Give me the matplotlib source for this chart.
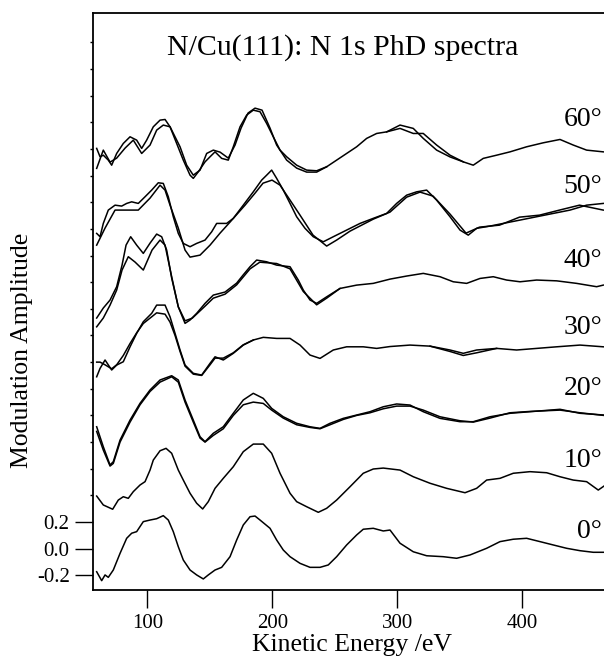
import numpy as np
import matplotlib
matplotlib.use("Agg")
from matplotlib import pyplot as plt

plt.rcParams['font.family'] = ['Liberation Serif', 'DejaVu Serif']

# (kinetic energy /eV, modulation amplitude)
spec_0 = [(59.5, -0.173), (63.5, -0.240), (66.2, -0.197), (68.8, -0.215), (72.8, -0.160),
          (78.2, -0.035), (83.5, 0.078), (87.5, 0.116), (91.5, 0.128), (96.8, 0.203),
          (102.2, 0.215), (107.5, 0.225), (112.8, 0.248), (116.8, 0.215), (120.8, 0.128),
          (124.8, 0.015), (128.8, -0.085), (134.2, -0.160), (139.5, -0.197), (144.8, -0.227),
          (148.8, -0.197), (154.2, -0.160), (159.5, -0.140), (166.2, -0.060), (171.5, 0.065),
          (176.8, 0.178), (182.2, 0.240), (186.2, 0.245), (190.2, 0.215), (198.2, 0.153),
          (203.5, 0.065), (208.8, -0.010), (214.2, -0.060), (222.2, -0.110), (230.2, -0.140),
          (238.2, -0.140), (244.8, -0.122), (251.5, -0.060), (259.5, 0.028), (267.5, 0.103),
          (272.8, 0.146), (280.8, 0.153), (288.8, 0.133), (294.2, 0.140), (302.2, 0.041),
          (312.8, -0.023), (323.5, -0.053), (336.8, -0.060), (347.5, -0.072), (358.2, -0.047),
          (371.5, 0.003), (382.2, 0.053), (392.8, 0.071), (403.5, 0.078), (414.2, 0.053),
          (424.8, 0.028), (435.5, 0.003), (446.2, -0.015), (456.8, -0.027), (465.4, -0.027)]

spec_10 = [(59.5, -0.105), (64.8, -0.172), (72.3, -0.204), (76.8, -0.135), (80.8, -0.110),
           (84.8, -0.122), (88.8, -0.072), (94.2, -0.022), (98.2, 0.003), (102.2, 0.090),
           (104.8, 0.165), (110.2, 0.235), (115.0, 0.253), (119.5, 0.216), (124.8, 0.090),
           (128.8, 0.015), (134.2, -0.084), (139.5, -0.159), (144.3, -0.202), (148.8, -0.147),
           (154.2, -0.047), (160.8, 0.028), (168.8, 0.115), (176.8, 0.228), (184.8, 0.285),
           (192.8, 0.285), (199.5, 0.216), (206.2, 0.066), (214.2, -0.084), (219.5, -0.147),
           (227.5, -0.185), (236.8, -0.227), (243.5, -0.197), (251.5, -0.135), (262.2, -0.035),
           (272.8, 0.066), (280.8, 0.098), (288.8, 0.105), (302.2, 0.090), (312.8, 0.040),
           (326.2, -0.009), (339.5, -0.047), (354.2, -0.080), (363.5, -0.047), (371.5, 0.015),
           (382.2, 0.028), (392.8, 0.066), (406.2, 0.078), (419.5, 0.070), (430.2, 0.040),
           (440.8, 0.015), (451.5, 0.003), (460.8, -0.060), (465.4, -0.030)]

spec_20 = [(59.5, -0.085), (64.8, -0.235), (70.2, -0.372), (72.8, -0.347), (78.2, -0.185),
           (86.2, -0.035), (94.2, 0.091), (102.2, 0.191), (110.2, 0.266), (119.5, 0.298),
           (124.8, 0.266), (130.2, 0.116), (136.8, -0.035), (142.2, -0.160), (146.2, -0.197),
           (152.8, -0.134), (160.8, -0.085), (168.8, 0.016), (176.8, 0.116), (184.8, 0.166),
           (192.8, 0.128), (199.5, 0.053), (208.8, -0.010), (219.5, -0.059), (230.2, -0.085),
           (238.2, -0.097), (246.2, -0.059), (256.8, -0.022), (267.5, 0.003), (278.2, 0.028),
           (288.8, 0.065), (299.5, 0.086), (310.2, 0.078), (320.8, 0.028), (334.2, -0.022),
           (350.2, -0.047), (360.8, -0.047), (374.2, -0.010), (390.2, 0.016), (406.2, 0.028),
           (430.2, 0.046), (446.2, 0.016), (465.4, 0.003)]
spec_20b = [(59.5, -0.12), (64.8, -0.26), (70.2, -0.38), (72.8, -0.36), (78.2, -0.20),
            (86.2, -0.05), (94.2, 0.08), (102.2, 0.18), (110.2, 0.25), (119.5, 0.29),
            (124.8, 0.25), (130.2, 0.10), (136.8, -0.05), (142.2, -0.17), (146.2, -0.20),
            (152.8, -0.15), (160.8, -0.10), (168.8, 0.00), (176.8, 0.08), (184.8, 0.10),
            (192.8, 0.09), (199.5, 0.04), (208.8, -0.02), (219.5, -0.07), (230.2, -0.09),
            (238.2, -0.10), (246.2, -0.07), (256.8, -0.03), (267.5, 0.00), (278.2, 0.02),
            (288.8, 0.05), (299.5, 0.07), (310.2, 0.07), (320.8, 0.04), (334.2, -0.01),
            (350.2, -0.04), (360.8, -0.05), (374.2, -0.02), (390.2, 0.02), (406.2, 0.03),
            (430.2, 0.04), (446.2, 0.02), (465.4, 0.00)]

spec_30 = [(59.5, -0.210), (62.2, -0.147), (66.2, -0.084), (71.5, -0.159), (75.5, -0.122),
           (80.8, -0.097), (86.2, 0.015), (91.5, 0.116), (96.8, 0.203), (103.5, 0.266),
           (107.5, 0.328), (114.2, 0.328), (118.2, 0.240), (122.2, 0.116), (126.2, -0.009),
           (130.2, -0.122), (136.8, -0.184), (143.5, -0.197), (150.2, -0.109), (154.2, -0.060),
           (160.8, -0.084), (168.8, -0.034), (176.8, 0.028), (184.8, 0.066), (192.8, 0.086),
           (203.5, 0.078), (214.2, 0.078), (222.2, 0.028), (230.2, -0.047), (238.2, -0.072),
           (248.8, -0.009), (259.5, 0.015), (272.8, 0.015), (283.5, 0.003), (294.2, 0.017),
           (310.2, 0.028), (326.2, 0.020), (342.2, -0.009), (352.8, -0.034), (363.5, -0.009),
           (379.5, 0.003), (395.5, -0.009), (411.5, 0.003), (427.5, 0.015), (446.2, 0.028),
           (464.8, 0.015)]
spec_30b = [(59.5, -0.10), (62.2, -0.10), (66.2, -0.12), (71.5, -0.15), (75.5, -0.12),
            (80.8, -0.05), (86.2, 0.04), (91.5, 0.12), (96.8, 0.19), (103.5, 0.24),
            (107.5, 0.27), (114.2, 0.26), (118.2, 0.20), (122.2, 0.10), (126.2, -0.02),
            (130.2, -0.13), (136.8, -0.19), (143.5, -0.20), (150.2, -0.12), (154.2, -0.07),
            (160.8, -0.07), (168.8, -0.03), (176.8, 0.03), (184.8, 0.066)]
spec_30c = [(326.2, 0.020), (342.2, -0.02), (352.8, -0.05), (363.5, -0.03), (379.5, 0.003)]

spec_40 = [(59.5, -0.269), (64.8, -0.194), (70.2, -0.134), (75.5, -0.034), (79.8, 0.128),
           (83.0, 0.278), (86.7, 0.341), (91.5, 0.278), (96.8, 0.216), (102.2, 0.293),
           (107.5, 0.361), (111.5, 0.341), (115.5, 0.241), (119.5, 0.031), (124.8, -0.185),
           (130.2, -0.309), (134.2, -0.284), (139.5, -0.234), (146.2, -0.159), (152.8, -0.097),
           (162.2, -0.074), (171.5, -0.007), (176.6, 0.053), (182.2, 0.116), (187.5, 0.166),
           (195.5, 0.153), (203.5, 0.128), (214.2, 0.116), (220.8, 0.016), (224.8, -0.059),
           (230.2, -0.134), (235.5, -0.159), (243.5, -0.110), (254.2, -0.047), (267.5, -0.022),
           (280.8, -0.009), (294.2, 0.023), (307.5, 0.046), (320.8, 0.066), (334.2, 0.041),
           (344.8, 0.003), (355.5, -0.009), (366.2, 0.028), (376.8, 0.041), (387.5, 0.016),
           (398.2, 0.003), (411.5, 0.016), (427.5, 0.010), (443.5, -0.009), (459.5, -0.034),
           (464.8, -0.022)]
spec_40b = [(59.5, -0.335), (64.8, -0.269), (70.2, -0.172), (75.5, -0.059), (79.8, 0.091),
            (84.8, 0.191), (90.2, 0.151), (96.8, 0.091), (103.8, 0.241), (110.2, 0.316),
            (114.2, 0.278), (119.5, 0.041), (124.8, -0.185), (130.2, -0.29), (136.0, -0.27),
            (146.2, -0.18), (152.8, -0.12), (162.2, -0.09), (171.5, -0.02), (182.2, 0.10),
            (190.0, 0.15), (203.5, 0.14), (214.2, 0.10), (224.8, -0.07), (235.5, -0.17),
            (243.5, -0.12), (254.2, -0.047)]

spec_50 = [(59.5, -0.134), (62.2, -0.159), (64.8, -0.059), (68.8, 0.041), (74.2, 0.078),
           (79.5, 0.071), (83.5, 0.091), (87.5, 0.103), (92.8, 0.091), (98.2, 0.141),
           (103.5, 0.191), (108.8, 0.246), (112.8, 0.241), (116.8, 0.141), (120.8, -0.009),
           (124.8, -0.134), (128.8, -0.209), (134.2, -0.234), (139.5, -0.209), (146.2, -0.184),
           (151.5, -0.122), (155.5, -0.059), (163.5, -0.059), (168.8, -0.021), (176.8, 0.078),
           (184.8, 0.178), (191.5, 0.266), (195.5, 0.303), (199.5, 0.341), (203.5, 0.279),
           (208.8, 0.191), (214.2, 0.091), (219.5, -0.009), (226.2, -0.096), (232.8, -0.159),
           (240.8, -0.197), (248.8, -0.159), (259.5, -0.109), (270.2, -0.059), (280.8, -0.021),
           (291.5, 0.016), (299.5, 0.091), (307.5, 0.153), (315.5, 0.178), (323.5, 0.191),
           (331.5, 0.116), (342.2, -0.009), (350.2, -0.109), (356.8, -0.147), (363.5, -0.096),
           (374.2, -0.079), (384.8, -0.059), (398.2, -0.034), (411.5, -0.009), (424.8, 0.016),
           (438.2, 0.041), (451.5, 0.078), (464.8, 0.091)]
spec_50b = [(59.5, -0.222), (66.2, -0.094), (74.2, 0.041), (83.0, 0.041), (92.8, 0.041),
            (102.2, 0.131), (110.2, 0.228), (114.2, 0.191), (118.2, 0.078), (124.8, -0.094),
            (130.2, -0.259), (134.2, -0.312), (142.2, -0.297), (150.2, -0.222), (158.2, -0.132),
            (166.2, -0.049), (178.2, 0.078), (186.2, 0.168), (192.6, 0.243), (199.8, 0.266),
            (206.2, 0.228), (214.2, 0.116), (222.2, 0.003), (232.6, -0.147), (243.5, -0.229),
            (251.5, -0.184), (262.2, -0.117), (280.8, -0.027), (294.2, 0.026), (307.5, 0.138),
            (318.2, 0.176), (328.6, 0.146), (342.2, 0.011), (355.0, -0.132), (365.8, -0.087),
            (381.8, -0.072), (397.8, -0.012), (413.8, 0.003), (429.8, 0.041), (445.8, 0.078),
            (464.8, 0.041)]

spec_60 = [(59.5, 0.004), (62.2, -0.059), (64.8, -0.047), (68.8, -0.084), (71.5, -0.122),
           (75.5, -0.034), (80.8, 0.041), (86.2, 0.091), (91.5, 0.066), (95.5, 0.004),
           (99.5, 0.066), (104.8, 0.166), (110.2, 0.216), (114.2, 0.221), (118.2, 0.166),
           (123.5, 0.041), (128.8, -0.084), (134.2, -0.197), (136.8, -0.221), (140.8, -0.172),
           (146.2, -0.097), (150.2, -0.059), (154.2, -0.022), (159.5, -0.071), (164.8, -0.084),
           (168.8, 0.016), (174.2, 0.166), (179.5, 0.254), (184.8, 0.291), (190.2, 0.279),
           (195.5, 0.191), (200.8, 0.091), (206.2, -0.009), (211.5, -0.059), (219.5, -0.122),
           (227.5, -0.159), (235.5, -0.164), (243.5, -0.134), (251.5, -0.084), (259.5, -0.034),
           (267.5, 0.016), (275.5, 0.079), (283.5, 0.116), (291.5, 0.128), (302.2, 0.154),
           (312.8, 0.116), (320.8, 0.116), (331.5, 0.029), (342.2, -0.047), (352.8, -0.097),
           (360.8, -0.122), (368.8, -0.071), (379.5, -0.047), (390.2, -0.022), (403.5, 0.016),
           (416.8, 0.046), (430.2, 0.071), (440.8, 0.029), (451.5, -0.009), (464.8, -0.022)]
spec_60b = [(59.5, -0.146), (64.8, -0.009), (70.2, -0.099), (75.5, -0.069), (82.2, 0.006),
            (88.8, 0.066), (95.5, -0.034), (102.2, 0.029), (107.5, 0.141), (112.8, 0.179),
            (118.2, 0.166), (126.2, 0.016), (131.5, -0.122), (136.8, -0.197), (142.2, -0.159),
            (147.5, -0.034), (152.8, -0.009), (158.2, -0.024), (164.8, -0.069), (170.2, 0.029),
            (175.0, 0.156), (180.6, 0.269), (186.2, 0.306), (191.8, 0.291), (198.2, 0.156),
            (203.5, 0.029), (211.5, -0.084), (219.5, -0.144), (227.5, -0.174), (235.5, -0.174),
            (243.5, -0.134)]
spec_60c = [(291.5, 0.128), (302.2, 0.179), (312.8, 0.154), (320.8, 0.079), (331.5, -0.009),
            (342.2, -0.060), (352.8, -0.097)]

angles = [0, 10, 20, 30, 40, 50, 60]
offsets = [0.0, 0.5, 1.0, 1.5, 2.0, 2.5, 3.0]
traces = [[spec_0], [spec_10], [spec_20, spec_20b], [spec_30, spec_30b, spec_30c],
          [spec_40, spec_40b], [spec_50, spec_50b], [spec_60, spec_60b, spec_60c]]
label_dy = [0.13, 0.16, 0.20, 0.16, 0.16, 0.22, 0.22]

fig = plt.figure(figsize=(6.04, 6.6), dpi=100)
ax = fig.add_axes([93.3 / 604, 70 / 660, (610 - 93.3) / 604, 577 / 660])

for ang, off, group, dy in zip(angles, offsets, traces, label_dy):
    for tr in group:
        e, a = np.array(tr).T
        ax.plot(e, a + off, color='black', lw=1.1)
    ax.text(463.8, off + dy, f"{ang}\u00b0", ha='right', va='center', fontsize=20)

ax.set_xlim(56.8, 470.2)
ax.set_ylim(-0.31, 4.02)

ax.set_xticks([100, 200, 300, 400])
ax.set_yticks([-0.2, 0.0, 0.2])
ax.set_yticklabels(['-0.2', '0.0', '0.2'])
ax.set_yticks(np.arange(-0.2, 4.0, 0.2), minor=True)
ax.tick_params(axis='both', which='major', direction='out', length=13, width=1,
               labelsize=15, pad=4)
ax.tick_params(axis='y', which='minor', direction='out', length=2.5, width=1)
for s in ax.spines.values():
    s.set_linewidth(1.3)

ax.set_xlabel("Kinetic Energy /eV", fontsize=18.5, labelpad=1)
fig.text(22 / 604, 1 - 350.5 / 660, "Modulation Amplitude", rotation=90,
         ha='center', va='center', fontsize=18.5)
fig.text(343 / 604, 1 - 48 / 660, "N/Cu(111): N 1s PhD spectra",
         ha='center', va='center', fontsize=21.5)

fig.savefig("out.png", dpi=100)
